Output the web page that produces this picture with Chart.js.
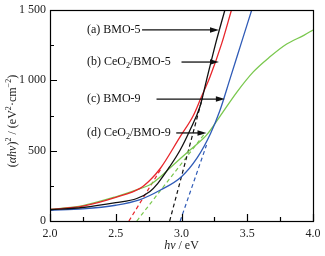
<!DOCTYPE html>
<html>
<head>
<meta charset="utf-8">
<script src="https://cdn.jsdelivr.net/npm/chart.js@4.4.1/dist/chart.umd.min.js"></script>
<style>
  html, body { margin: 0; padding: 0; background: #fff; }
</style>
</head>
<body>
<canvas id="tauc-chart" width="325" height="256"></canvas>
<script>
// 曲线数据 (hν / eV, (αhν)^2)
const bmo5X = [2.0, 2.25, 2.5, 2.66, 2.76, 2.82, 2.91, 2.99, 3.065, 3.14, 3.19, 3.26, 3.33];
const bmo5Y = [80, 96, 130, 160, 210, 268, 386, 505, 647, 812, 1000, 1263, 1500];

const ceBmo5X = [2.0, 2.25, 2.5, 2.684, 2.76, 2.84, 2.99, 3.09, 3.15, 3.217, 3.306, 3.38];
const ceBmo5Y = [82, 106, 168, 232, 290, 375, 600, 750, 880, 1026, 1263, 1500];

const bmo9X = [2.0, 2.25, 2.5, 2.68, 2.84, 3.0, 3.12, 3.22, 3.29, 3.37, 3.445, 3.534];
const bmo9Y = [76, 86, 112, 150, 220, 315, 450, 620, 780, 1014, 1236, 1500];

const ceBmo9X = [2.0, 2.25, 2.5, 2.68, 2.76, 2.84, 2.91, 3.065, 3.19, 3.29, 3.42, 3.546, 3.67, 3.8, 3.93, 4.0];
const ceBmo9Y = [82, 110, 172, 228, 258, 315, 375, 505, 611, 741, 915, 1060, 1165, 1258, 1320, 1358];

// 切线 (虚线)
const tanBmo5X = [2.91, 3.16];
const tanBmo5Y = [0, 880];
const tanCeBmo5X = [2.60, 2.85];
const tanCeBmo5Y = [0, 380];
const tanBmo9X = [2.99, 3.19];
const tanBmo9Y = [0, 540];
const tanCeBmo9X = [2.66, 3.18];
const tanCeBmo9Y = [0, 625];

// 坐标轴刻度
const xTicks = [2.0, 2.5, 3.0, 3.5, 4.0];
const yTicks = [0, 500, 1000, 1500];

const SERIF = '"Liberation Serif", "DejaVu Serif", serif';

function pts(xs, ys) {
    return xs.map((x, i) => ({ x: x, y: ys[i] }));
}

function curve(label, xs, ys, color) {
    return {
        label: label,
        data: pts(xs, ys),
        borderColor: color,
        borderWidth: 1.3,
        showLine: true,
        pointRadius: 0,
        cubicInterpolationMode: 'monotone'
    };
}

function tangent(label, xs, ys, color) {
    return {
        label: label,
        data: pts(xs, ys),
        borderColor: color,
        borderWidth: 1.2,
        borderDash: [4, 3],
        showLine: true,
        pointRadius: 0
    };
}

// 富文本 (上标/下标/斜体)
function richWidth(ctx, segs, size) {
    let w = 0;
    segs.forEach(s => {
        const fs = (s.sup || s.sub) ? size * 0.68 : size;
        ctx.font = (s.italic ? 'italic ' : '') + fs + 'px ' + SERIF;
        w += ctx.measureText(s.t).width;
    });
    return w;
}

function drawRich(ctx, segs, x, y, size, align) {
    let cx = align === 'center' ? x - richWidth(ctx, segs, size) / 2 : x;
    ctx.textBaseline = 'middle';
    ctx.textAlign = 'left';
    segs.forEach(s => {
        const fs = (s.sup || s.sub) ? size * 0.68 : size;
        ctx.font = (s.italic ? 'italic ' : '') + fs + 'px ' + SERIF;
        let dy = 0;
        if (s.sup) dy = -size * 0.35;
        if (s.sub) dy = size * 0.3;
        ctx.fillText(s.t, cx, y + dy);
        cx += ctx.measureText(s.t).width;
    });
}

// 标注: 文字 + 箭头 (数据坐标)
const notes = [
    { segs: [{ t: '(a) BMO-5' }], y: 1358, from: 2.70, to: 3.285 },
    { segs: [{ t: '(b) CeO' }, { t: '2', sub: true }, { t: '/BMO-5' }], y: 1130, from: 3.0, to: 3.285 },
    { segs: [{ t: '(c) BMO-9' }], y: 867, from: 2.81, to: 3.33 },
    { segs: [{ t: '(d) CeO' }, { t: '2', sub: true }, { t: '/BMO-9' }], y: 626, from: 2.96, to: 3.19 }
];
const noteTextX = 2.281;

const framePlugin = {
    id: 'frame',
    afterDatasetsDraw(chart) {
        const ctx = chart.ctx;
        const a = chart.chartArea;
        const xs = chart.scales.x;
        const ys = chart.scales.y;
        ctx.save();
        ctx.strokeStyle = '#000';
        ctx.lineWidth = 1.2;
        ctx.strokeRect(Math.round(a.left) + 0.5, Math.round(a.top) + 0.5,
            Math.round(a.right - a.left), Math.round(a.bottom - a.top));

        // 内向刻度
        ctx.beginPath();
        for (let v = 2.0; v <= 4.0001; v += 0.25) {
            const px = Math.round(xs.getPixelForValue(v)) + 0.5;
            const len = Math.abs(v * 2 - Math.round(v * 2)) < 1e-6 ? 7 : 4;
            ctx.moveTo(px, a.bottom);
            ctx.lineTo(px, a.bottom - len);
        }
        for (let v = 0; v <= 1500; v += 250) {
            const py = Math.round(ys.getPixelForValue(v)) + 0.5;
            const len = v % 500 === 0 ? 7 : 4;
            ctx.moveTo(a.left, py);
            ctx.lineTo(a.left + len, py);
        }
        ctx.stroke();

        // 标注
        ctx.fillStyle = '#111';
        ctx.strokeStyle = '#111';
        ctx.lineWidth = 1.3;
        notes.forEach(n => {
            const py = ys.getPixelForValue(n.y);
            drawRich(ctx, n.segs, xs.getPixelForValue(noteTextX), py, 12, 'left');
            const x0 = xs.getPixelForValue(n.from);
            const x1 = xs.getPixelForValue(n.to);
            ctx.beginPath();
            ctx.moveTo(x0, py);
            ctx.lineTo(x1 - 6, py);
            ctx.stroke();
            ctx.beginPath();
            ctx.moveTo(x1, py);
            ctx.lineTo(x1 - 9, py - 2.8);
            ctx.lineTo(x1 - 9, py + 2.8);
            ctx.closePath();
            ctx.fill();
        });

        // 坐标轴标题
        ctx.fillStyle = '#222';
        drawRich(ctx, [{ t: 'hν', italic: true }, { t: ' / eV' }], (a.left + a.right) / 2, 246, 12, 'center');
        ctx.save();
        ctx.translate(13, 121);
        ctx.rotate(-Math.PI / 2);
        drawRich(ctx, [
            { t: '(' }, { t: 'αhν', italic: true }, { t: ')' }, { t: '2', sup: true },
            { t: ' / (eV' }, { t: '2', sup: true }, { t: '·cm' }, { t: '−2', sup: true }, { t: ')' }
        ], 0, 0, 12, 'center');
        ctx.restore();
        ctx.restore();
    }
};

const ctx = document.getElementById('tauc-chart').getContext('2d');
const chart = new Chart(ctx, {
    type: 'scatter',
    data: {
        datasets: [
            curve('(a) BMO-5', bmo5X, bmo5Y, '#111111'),
            curve('(b) CeO2/BMO-5', ceBmo5X, ceBmo5Y, '#e8262b'),
            curve('(c) BMO-9', bmo9X, bmo9Y, '#2f5bb7'),
            curve('(d) CeO2/BMO-9', ceBmo9X, ceBmo9Y, '#7ac84e'),
            tangent('BMO-5 切线', tanBmo5X, tanBmo5Y, '#111111'),
            tangent('CeO2/BMO-5 切线', tanCeBmo5X, tanCeBmo5Y, '#e8262b'),
            tangent('BMO-9 切线', tanBmo9X, tanBmo9Y, '#2f5bb7'),
            tangent('CeO2/BMO-9 切线', tanCeBmo9X, tanCeBmo9Y, '#7ac84e')
        ]
    },
    options: {
        responsive: false,
        animation: false,
        devicePixelRatio: 1,
        layout: { padding: { top: 10, right: 12, left: 0, bottom: 0 } },
        plugins: {
            legend: { display: false },
            tooltip: { enabled: false }
        },
        scales: {
            x: {
                type: 'linear',
                min: 2,
                max: 4,
                afterFit: s => { s.height = 35; },
                afterBuildTicks: s => { s.ticks = xTicks.map(v => ({ value: v })); },
                grid: { display: false },
                border: { display: false },
                ticks: {
                    padding: -2,
                    color: '#222',
                    font: { family: SERIF, size: 12 },
                    maxRotation: 0,
                    callback: v => Number(v).toFixed(1)
                }
            },
            y: {
                type: 'linear',
                min: 0,
                max: 1500,
                afterFit: s => { s.width = 50; },
                afterBuildTicks: s => { s.ticks = yTicks.map(v => ({ value: v })); },
                grid: { display: false },
                border: { display: false },
                ticks: {
                    padding: -4,
                    color: '#222',
                    font: { family: SERIF, size: 12 },
                    callback: v => v >= 1000 ? Math.floor(v / 1000) + ' ' + String(v % 1000).padStart(3, '0') : String(v)
                }
            }
        }
    },
    plugins: [framePlugin]
});
</script>
</body>
</html>
